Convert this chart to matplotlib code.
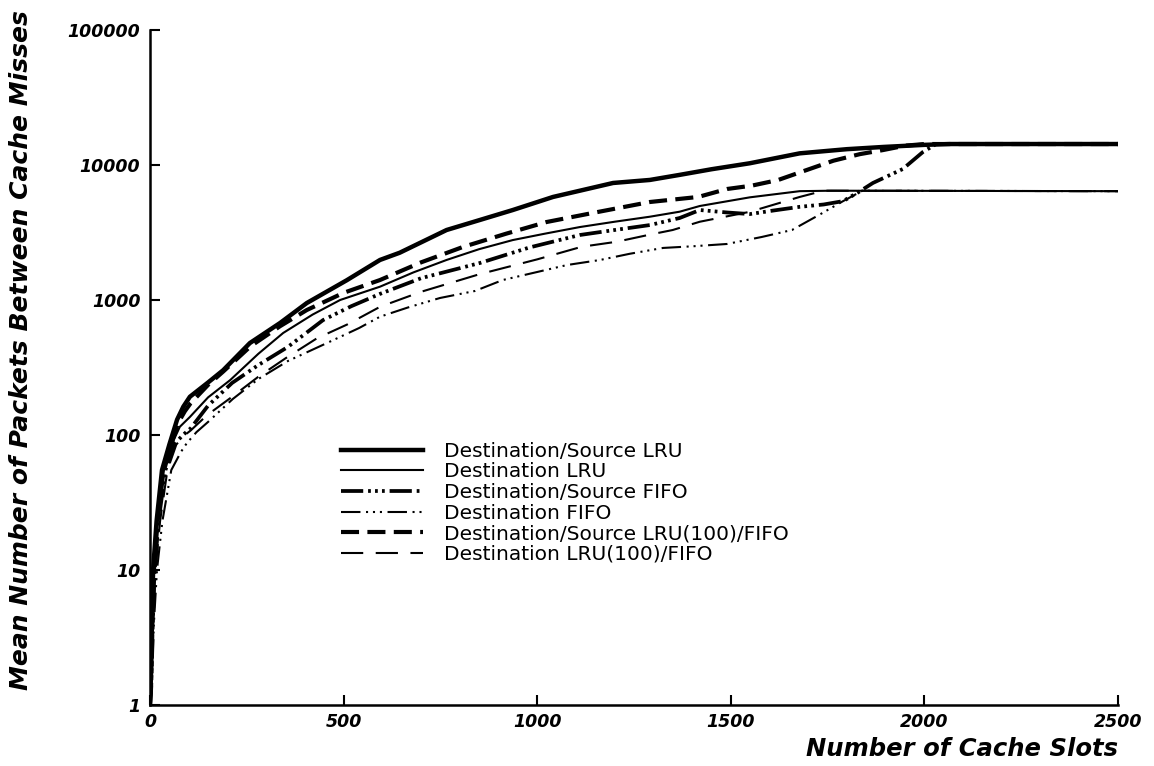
import matplotlib
matplotlib.use("Agg")
import matplotlib.pyplot as plt
from matplotlib.ticker import FixedLocator, NullLocator, FixedFormatter

plt.rcParams['font.family'] = ['DejaVu Sans']
plt.rcParams['lines.scale_dashes'] = False

# Cache-size sweep: number of slots vs mean packets between misses
ds_lru_x = [0, 2, 5, 8, 17, 31, 50, 70, 86, 103, 150, 189, 258, 336, 405, 508, 594, 645, 766, 850,
            937, 1041, 1196, 1291, 1368, 1450, 1549, 1678, 1800, 1893, 2000, 2066, 2500]
ds_lru_y = [1, 1.5, 4, 10, 23, 55, 85, 130, 162, 192, 245, 302, 480, 676, 950, 1400, 1980, 2240, 3300, 3900,
            4640, 5800, 7360, 7750, 8450, 9300, 10300, 12200, 13100, 13600, 14100, 14300, 14300]

d_lru_x = [0, 3, 6, 10, 20, 36, 56, 77, 103, 150, 207, 280, 344, 420, 491, 594, 680, 766, 850, 937,
           1020, 1110, 1200, 1291, 1368, 1420, 1549, 1678, 1760, 2500]
d_lru_y = [1, 1.4, 4, 10, 23, 55, 85, 115, 136, 190, 255, 400, 570, 780, 1000, 1255, 1600, 1980, 2380, 2780,
           3100, 3470, 3800, 4140, 4510, 4970, 5760, 6400, 6450, 6400]

ds_fifo_x = [0, 3, 7, 12, 22, 40, 62, 85, 105, 150, 212, 280, 356, 447, 520, 594, 700, 852, 980, 1110,
             1200, 1291, 1368, 1420, 1490, 1549, 1610, 1678, 1740, 1790, 1830, 1867, 1944, 1996, 2030, 2500]
ds_fifo_y = [1, 1.3, 4, 10, 23, 55, 85, 100, 112, 165, 243, 330, 449, 710, 900, 1110, 1450, 1880, 2450, 3030,
             3300, 3590, 4050, 4640, 4450, 4330, 4600, 4900, 5100, 5400, 6300, 7360, 9330, 12470, 14300, 14300]

d_fifo_x = [0, 5, 10, 18, 32, 55, 80, 95, 120, 150, 214, 280, 356, 457, 540, 594, 666, 749, 839, 911,
            999, 1077, 1162, 1239, 1325, 1402, 1490, 1580, 1658, 1730, 1790, 1840, 2500]
d_fifo_y = [1, 1.3, 4, 10, 23, 55, 75, 87, 105, 125, 185, 260, 353, 480, 620, 752, 880, 1035, 1166, 1406,
            1610, 1816, 1978, 2200, 2430, 2500, 2600, 2930, 3300, 4300, 5400, 6450, 6400]

ds_mix_x = [0, 2, 5, 9, 19, 34, 52, 72, 90, 105, 150, 189, 260, 336, 405, 500, 594, 700, 808, 920,
            1024, 1150, 1291, 1416, 1490, 1554, 1622, 1696, 1765, 1833, 1893, 1950, 2000, 2500]
ds_mix_y = [1, 1.4, 3.5, 9, 22, 52, 80, 122, 150, 172, 235, 295, 455, 640, 843, 1130, 1406, 1900, 2470, 3100,
            3780, 4450, 5320, 5800, 6640, 7030, 7740, 9180, 10760, 12030, 12900, 13900, 14300, 14300]

d_mix_x = [0, 4, 8, 14, 26, 45, 68, 90, 105, 147, 210, 279, 350, 431, 510, 594, 700, 850, 1000, 1115,
           1205, 1291, 1350, 1420, 1549, 1678, 1740, 2500]
d_mix_y = [1, 1.3, 4, 10, 23, 55, 85, 100, 108, 140, 190, 269, 370, 520, 660, 890, 1150, 1550, 2000, 2480,
           2700, 3050, 3300, 3800, 4500, 5800, 6450, 6400]

labels = ["Destination/Source LRU", "Destination LRU", "Destination/Source FIFO",
          "Destination FIFO", "Destination/Source LRU(100)/FIFO", "Destination LRU(100)/FIFO"]

x_ticks = [0, 500, 1000, 1500, 2000, 2500]
x_tick_labels = ["0", "500", "1000", "1500", "2000", "2500"]
y_ticks = [1, 10, 100, 1000, 10000, 100000]
y_tick_labels = ["1", "10", "100", "1000", "10000", "100000"]

fig = plt.figure(figsize=(11.54, 7.66), dpi=100)
ax = fig.add_axes([150 / 1154, 1 - 705 / 766, 968 / 1154, 675 / 766])

series = [
    (ds_lru_x, ds_lru_y, dict(lw=3.2, ls='-')),
    (d_lru_x, d_lru_y, dict(lw=1.5, ls='-')),
    (ds_fifo_x, ds_fifo_y, dict(lw=2.7, ls=(0, (16, 3.5, 2, 3, 2, 3, 2, 3.5)))),
    (d_fifo_x, d_fifo_y, dict(lw=1.5, ls=(0, (14, 4, 1.5, 3.5, 1.5, 3.5, 1.5, 4)))),
    (ds_mix_x, ds_mix_y, dict(lw=3.0, ls=(0, (13, 6)))),
    (d_mix_x, d_mix_y, dict(lw=1.5, ls=(0, (16, 9)))),
]
for (xs, ys, st), lab in zip(series, labels):
    ax.plot(xs, ys, color='black', label=lab, solid_joinstyle='round', **st)

ax.set_yscale('log')
ax.set_xlim(0, 2500)
ax.set_ylim(1, 100000)
ax.xaxis.set_major_locator(FixedLocator(x_ticks))
ax.xaxis.set_major_formatter(FixedFormatter(x_tick_labels))
ax.yaxis.set_major_locator(FixedLocator(y_ticks))
ax.yaxis.set_major_formatter(FixedFormatter(y_tick_labels))
ax.yaxis.set_minor_locator(NullLocator())
ax.xaxis.set_minor_locator(NullLocator())

for side in ('top', 'right'):
    ax.spines[side].set_visible(False)
for side in ('left', 'bottom'):
    ax.spines[side].set_linewidth(1.8)

ax.tick_params(axis='both', direction='in', length=7, width=1.5)
ax.tick_params(axis='y', pad=7)
ax.tick_params(axis='x', pad=6)
for t in ax.get_xticklabels() + ax.get_yticklabels():
    t.set_fontsize(12.5)
    t.set_fontweight('bold')
    t.set_fontstyle('italic')

ax.set_xlabel("Number of Cache Slots", fontsize=17.5, fontweight='bold',
              fontstyle='italic', loc='right', labelpad=4)
ax.set_ylabel("Mean Number of Packets Between Cache Misses", fontsize=18,
              fontweight='bold', fontstyle='italic')
ax.yaxis.set_label_coords(-0.121, 0.526)

ax.legend(loc='upper left', bbox_to_anchor=(0.197, 0.39), frameon=False,
          fontsize=14.5, handlelength=4.1, handletextpad=1.05, labelspacing=0.08,
          borderpad=0, borderaxespad=0)

fig.savefig("out.png", dpi=100)
